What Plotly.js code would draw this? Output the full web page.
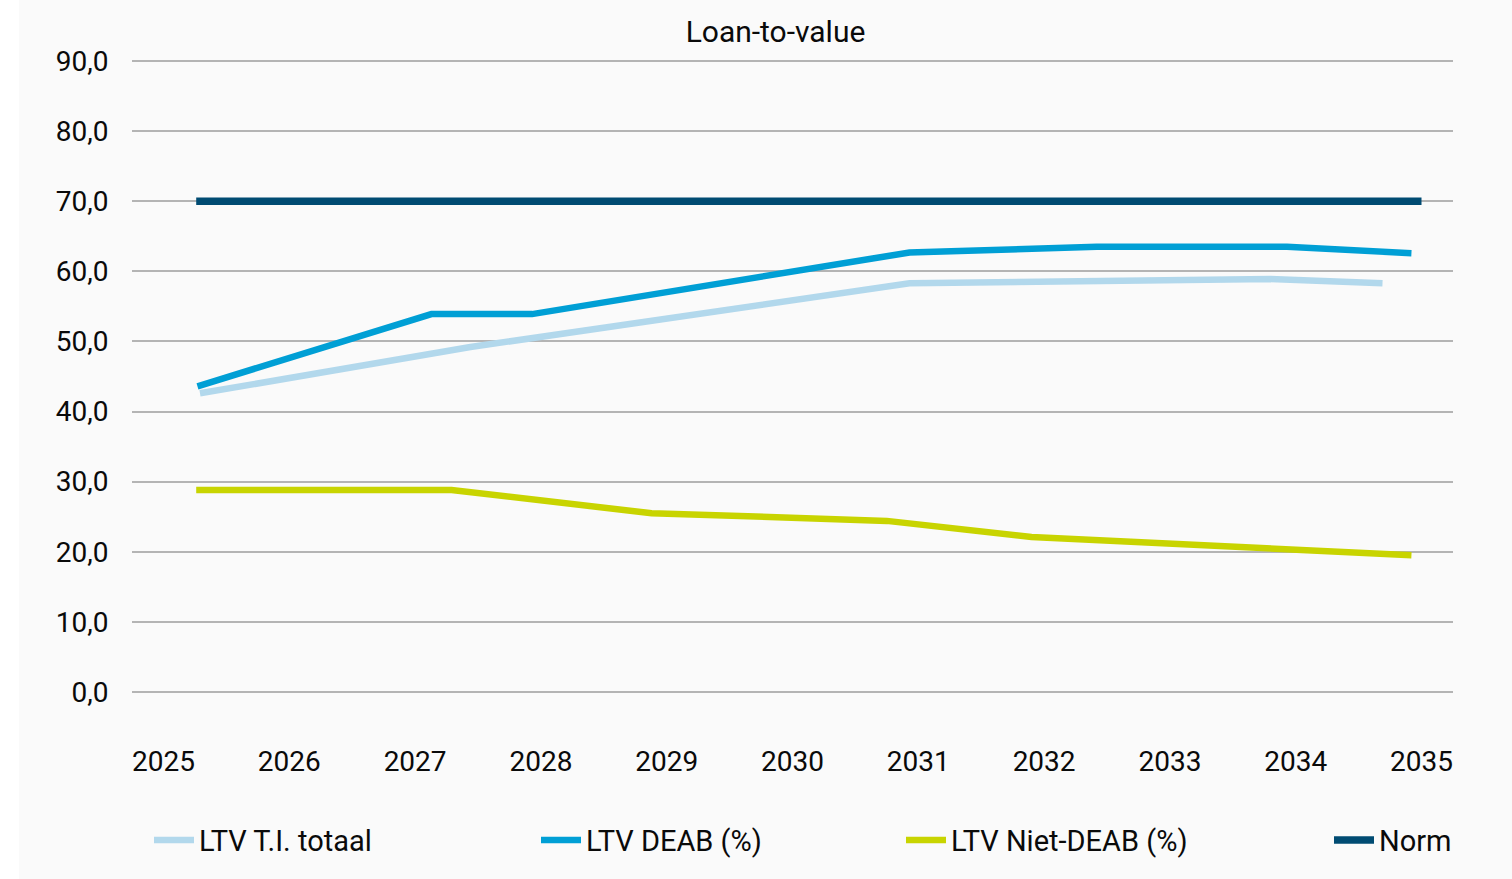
<!DOCTYPE html>
<html>
<head>
<meta charset="utf-8">
<script src="https://cdn.plot.ly/plotly-3.0.1.min.js"></script>
<style>
  html, body { margin: 0; padding: 0; background: #ffffff; }
  #chart { position: absolute; left: 19px; top: 0; width: 1493px; height: 879px; }
</style>
</head>
<body>
<div id="chart"></div>
<script>
// ---- data ----
const chartTitle = "Loan-to-value";
const xTickValues = [2025, 2026, 2027, 2028, 2029, 2030, 2031, 2032, 2033, 2034, 2035];
const xTickLabels = ["2025", "2026", "2027", "2028", "2029", "2030", "2031", "2032", "2033", "2034", "2035"];
const yTickValues = [0, 10, 20, 30, 40, 50, 60, 70, 80, 90];

const seriesNames = ["LTV T.I. totaal", "LTV DEAB (%)", "LTV Niet-DEAB (%)", "Norm"];

const tiYears   = [2025.29, 2027.44, 2030.93, 2033.80, 2034.69];
const tiValues  = [42.6, 49.2, 58.3, 58.9, 58.3];

const deabYears  = [2025.27, 2027.13, 2027.93, 2030.93, 2032.42, 2033.93, 2034.92];
const deabValues = [43.6, 53.9, 53.9, 62.7, 63.5, 63.5, 62.6];

const nietYears  = [2025.26, 2027.29, 2028.88, 2030.75, 2031.90, 2034.92];
const nietValues = [28.8, 28.8, 25.5, 24.4, 22.1, 19.5];

const normYears  = [2025.26, 2035.0];
const normValues = [70, 70];

// ---- styles ----
const colors = ["#b2d8ec", "#009fd5", "#c8d400", "#004b72"];
const widths = [6.5, 6.5, 6.5, 7.5];
const fontFamily = "Roboto, 'Open Sans', sans-serif";
const textColor = "#0a0a0a";

function lineTrace(x, y, i, legendId) {
  return {
    type: "scatter", mode: "lines", x: x, y: y, name: seriesNames[i],
    line: { color: colors[i], width: widths[i] },
    legend: legendId, hoverinfo: "skip"
  };
}

const traces = [
  lineTrace(tiYears, tiValues, 0, "legend"),
  lineTrace(deabYears, deabValues, 1, "legend2"),
  lineTrace(nietYears, nietValues, 2, "legend3"),
  lineTrace(normYears, normValues, 3, "legend4")
];

function legendAt(x) {
  return {
    x: x, xanchor: "left", y: -0.230, yanchor: "middle",
    orientation: "h", bgcolor: "rgba(0,0,0,0)", borderwidth: 0,
    itemwidth: 40,
    font: { family: fontFamily, size: 29, color: textColor }
  };
}

const layout = {
  width: 1493, height: 879,
  paper_bgcolor: "#fafafa", plot_bgcolor: "#fafafa",
  margin: { l: 113, r: 59, t: 58.9, b: 184.9 },
  separators: ",.",
  showlegend: true,
  title: {
    text: chartTitle, x: (775.5 - 19) / 1493, xanchor: "center", xref: "container",
    y: 1 - 31 / 879, yref: "container", yanchor: "middle",
    font: { family: fontFamily, size: 30, color: textColor }
  },
  xaxis: {
    range: [2024.7496, 2035.2504],
    tickmode: "array", tickvals: xTickValues, ticktext: xTickLabels,
    showgrid: false, zeroline: false, showline: false,
    ticks: "outside", ticklen: 42, tickcolor: "rgba(0,0,0,0)",
    tickfont: { family: fontFamily, size: 28, color: textColor },
    fixedrange: true
  },
  yaxis: {
    range: [-0.3, 90.3],
    tickmode: "array", tickvals: yTickValues, tickformat: ".1f",
    showgrid: true, gridcolor: "#b4b4b4", gridwidth: 2,
    zeroline: false, showline: false,
    ticks: "outside", ticklen: 17, tickcolor: "rgba(0,0,0,0)",
    tickfont: { family: fontFamily, size: 28, color: textColor },
    fixedrange: true
  },
  legend: legendAt((149 - 132) / 1321),
  legend2: legendAt((536 - 132) / 1321),
  legend3: legendAt((901 - 132) / 1321),
  legend4: legendAt((1329 - 132) / 1321)
};

Plotly.newPlot("chart", traces, layout, { displayModeBar: false, staticPlot: true });
</script>
</body>
</html>
